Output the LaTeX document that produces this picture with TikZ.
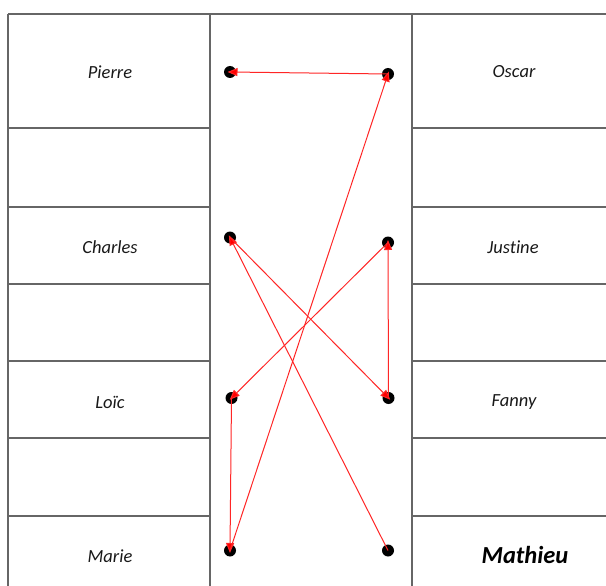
\documentclass[tikz,border=0pt]{standalone}
\usepackage{fontspec}
\setmainfont{Carlito}[Ligatures=NoCommon]
\usetikzlibrary{arrows.meta}
\begin{document}
\begin{tikzpicture}[x=1pt,y=-1pt,
  gridline/.style={draw=gray!80!black,line width=1.2pt},
  lbl/.style={font=\fontsize{18.5}{22}\selectfont\itshape,text=black!90},
  biglbl/.style={font=\fontsize{24.5}{28}\selectfont\bfseries\itshape,text=black},
  dotnode/.style={circle,fill=black,inner sep=0pt,minimum size=12pt},
  link/.style={draw=red!85!white,line width=1pt,shorten >=-2.5pt,-{Triangle[length=10pt,width=8pt,fill=red]}}]
\useasboundingbox (0,0) rectangle (606,586);
\fill[white] (0,0) rectangle (606,586);
% grid
\draw[gridline] (8,14) -- (606,14);
\foreach \yy in {128,207,284,361,438,516} {
  \draw[gridline] (8,\yy) -- (210,\yy);
  \draw[gridline] (412,\yy) -- (606,\yy);
}
\foreach \xx in {8,210,412}
  \draw[gridline] (\xx,14) -- (\xx,586);
% labels
\node[lbl] (tPierre) at (110,72) {Pierre};
\node[lbl] (tCharles) at (110,247) {Charles};
\node[lbl] (tLoic) at (110,402) {Loïc};
\node[lbl] (tMarie) at (110,556) {Marie};
\node[lbl] (tOscar) at (514,72) {Oscar};
\node[lbl] (tJustine) at (513,247) {Justine};
\node[lbl] (tFanny) at (514,402) {Fanny};
\node[biglbl] (tMathieu) at (525,555) {Mathieu};
% dots
\node[dotnode] (pierre) at (230,72) {};
\node[dotnode] (charles) at (230,237.5) {};
\node[dotnode] (loic) at (231.5,398) {};
\node[dotnode] (marie) at (230,550.5) {};
\node[dotnode] (oscar) at (388,74) {};
\node[dotnode] (justine) at (388,242.5) {};
\node[dotnode] (fanny) at (388.5,398) {};
\node[dotnode] (mathieu) at (388,550.5) {};
% connectors
\draw[link] (mathieu.center) -- (charles.center);
\draw[link] (charles.center) -- (fanny.center);
\draw[link] (fanny.center) -- (justine.center);
\draw[link] (justine.center) -- (loic.center);
\draw[link] (loic.center) -- (marie.center);
\draw[link] (marie.center) -- (oscar.center);
\draw[link] (oscar.center) -- (pierre.center);
\end{tikzpicture}
\end{document}
